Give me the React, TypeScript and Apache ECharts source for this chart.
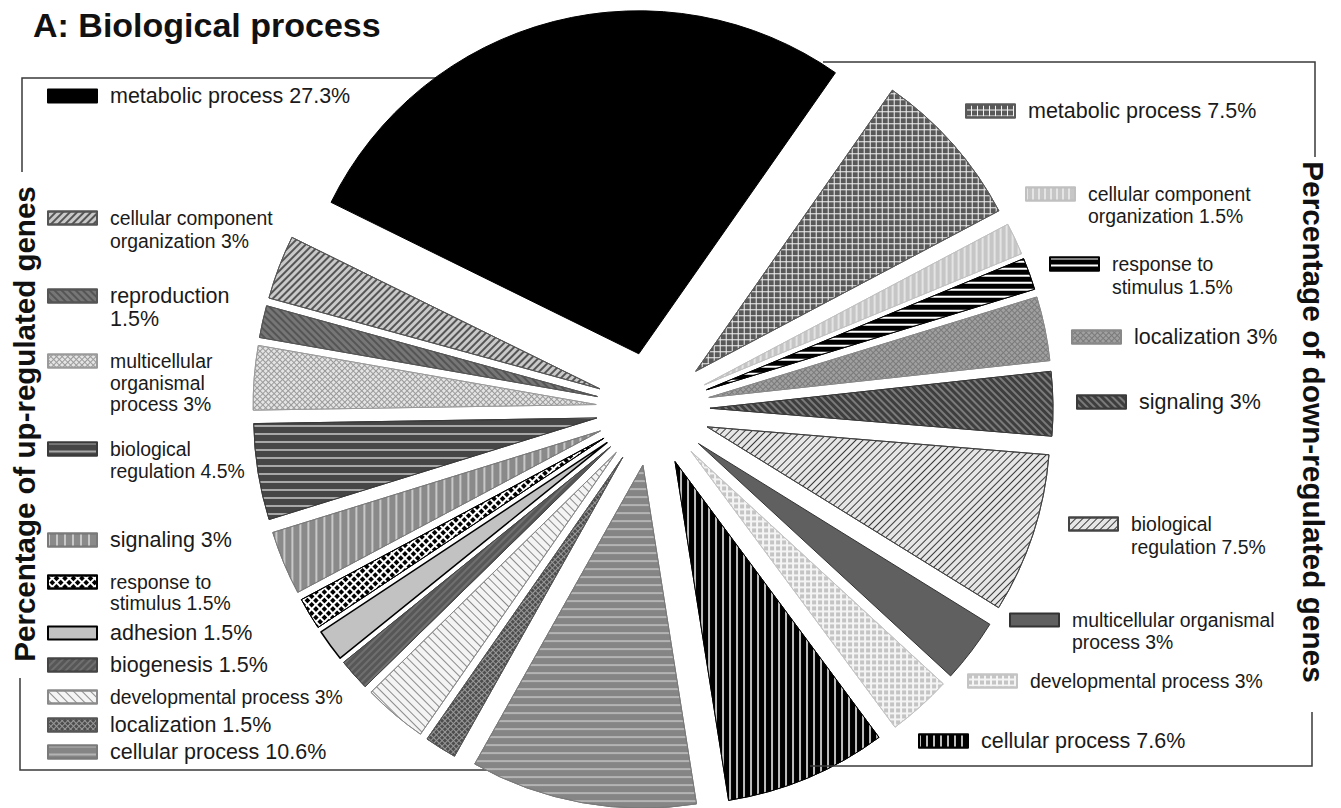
import React, { useEffect, useRef } from "react";
import * as echarts from "echarts";

const TITLE = "A: Biological process";
const UP_AXIS_TITLE = "Percentage of up-regulated genes";
const DOWN_AXIS_TITLE = "Percentage of down-regulated genes";

// Up-regulated genes (legend order, counter-clockwise from the black slice)
const UP_CATEGORIES = [
  "metabolic process",
  "cellular component organization",
  "reproduction",
  "multicellular organismal process",
  "biological regulation",
  "signaling",
  "response to stimulus",
  "adhesion",
  "biogenesis",
  "developmental process",
  "localization",
  "cellular process",
];
const UP_VALUES = [27.3, 3, 1.5, 3, 4.5, 3, 1.5, 1.5, 1.5, 3, 1.5, 10.6];

// Down-regulated genes (legend order, clockwise from the black slice)
const DOWN_CATEGORIES = [
  "metabolic process",
  "cellular component organization",
  "response to stimulus",
  "localization",
  "signaling",
  "biological regulation",
  "multicellular organismal process",
  "developmental process",
  "cellular process",
];
const DOWN_VALUES = [7.5, 1.5, 1.5, 3, 3, 7.5, 3, 3, 7.6];

const FONT = "'Liberation Sans', Arial, Helvetica, sans-serif";

// ---------- styles (patterns) ----------
type Sty = { color: string; borderColor: string; borderWidth?: number; decal?: any };
const solid = (c: string, b: string, bw = 1): Sty => ({ color: c, borderColor: b, borderWidth: bw });
const hLines = (bg: string, line: string, w: number, gap: number, b: string): Sty => ({
  color: bg, borderColor: b, borderWidth: 1,
  decal: { symbol: "rect", symbolSize: 1, color: line, dashArrayX: [1, 0], dashArrayY: [w, gap], rotation: 0 },
});
const vLines = (bg: string, line: string, w: number, gap: number, b: string): Sty => ({
  color: bg, borderColor: b, borderWidth: 1,
  decal: { symbol: "rect", symbolSize: 1, color: line, dashArrayX: [w, gap], dashArrayY: [1, 0], rotation: 0 },
});
const diag = (bg: string, line: string, w: number, gap: number, rot: number, b: string): Sty => ({
  color: bg, borderColor: b, borderWidth: 1,
  decal: { symbol: "rect", symbolSize: 1, color: line, dashArrayX: [1, 0], dashArrayY: [w, gap], rotation: rot },
});
const grid = (lineC: string, sqC: string, sq: number, gap: number, rot: number, b: string): Sty => ({
  color: lineC, borderColor: b, borderWidth: 1,
  decal: { symbol: "rect", symbolSize: 1, color: sqC, dashArrayX: [sq, gap], dashArrayY: [sq, gap], rotation: rot },
});
const SLASH = -Math.PI / 4; // "/"
const BSLASH = Math.PI / 4; // "\"

const UP_STYLES: Sty[] = [
  solid("#000000", "#000000"),
  diag("#c9c9c9", "#555555", 2, 3, SLASH, "#555555"),
  diag("#767676", "#555555", 2, 3, BSLASH, "#555555"),
  grid("#9a9a9a", "#e4e4e4", 3, 1, Math.PI / 4, "#9a9a9a"),
  hLines("#464646", "#a8a8a8", 2, 6, "#3a3a3a"),
  vLines("#8a8a8a", "#c8c8c8", 2, 6, "#7a7a7a"),
  grid("#ffffff", "#000000", 4, 2, Math.PI / 4, "#000000"),
  solid("#c2c2c2", "#000000", 1.5),
  diag("#575757", "#6f6f6f", 2, 3, SLASH, "#444444"),
  diag("#f4f4f4", "#8a8a8a", 1, 5, BSLASH, "#8a8a8a"),
  grid("#999999", "#4d4d4d", 3, 1, Math.PI / 4, "#555555"),
  hLines("#858585", "#b4b4b4", 2, 6, "#7a7a7a"),
];
const DOWN_STYLES: Sty[] = [
  grid("#f2f2f2", "#595959", 5, 1, 0, "#595959"),
  vLines("#c6c6c6", "#e4e4e4", 2, 4, "#c0c0c0"),
  hLines("#000000", "#ffffff", 2, 5, "#000000"),
  grid("#7a7a7a", "#a0a0a0", 3, 1, Math.PI / 4, "#888888"),
  diag("#3e3e3e", "#7a7a7a", 2, 3, BSLASH, "#3a3a3a"),
  diag("#e6e6e6", "#3a3a3a", 1, 4, SLASH, "#444444"),
  solid("#606060", "#333333"),
  grid("#f4f4f4", "#c4c4c4", 4, 2, 0, "#c4c4c4"),
  vLines("#000000", "#bdbdbd", 2, 5, "#000000"),
];

// ---------- legend layout: swatch x, swatch centre y, font size, line height, words per line ----------
type Lay = { x: number; y: number; fs: number; lh: number; words: number[] };
const BIG = 21.5;
const SMALL = 19.4;
const UP_LAYOUT: Lay[] = [
  { x: 47, y: 96, fs: BIG, lh: 23, words: [] },
  { x: 47, y: 218, fs: SMALL, lh: 23, words: [2, 2] },
  { x: 47, y: 296, fs: BIG, lh: 23, words: [1, 1] },
  { x: 47, y: 361, fs: SMALL, lh: 21.5, words: [1, 1, 2] },
  { x: 47, y: 449, fs: SMALL, lh: 22, words: [1, 2] },
  { x: 47, y: 540, fs: BIG, lh: 23, words: [] },
  { x: 47, y: 582, fs: SMALL, lh: 21, words: [2, 2] },
  { x: 47, y: 633, fs: BIG, lh: 23, words: [] },
  { x: 47, y: 665, fs: BIG, lh: 23, words: [] },
  { x: 47, y: 697, fs: SMALL, lh: 23, words: [] },
  { x: 47, y: 725, fs: BIG, lh: 23, words: [] },
  { x: 47, y: 752, fs: BIG, lh: 23, words: [] },
];
const DOWN_LAYOUT: Lay[] = [
  { x: 965, y: 111, fs: BIG, lh: 23, words: [] },
  { x: 1025, y: 194, fs: SMALL, lh: 22, words: [2, 2] },
  { x: 1049, y: 264, fs: SMALL, lh: 23, words: [2, 2] },
  { x: 1071, y: 337, fs: BIG, lh: 23, words: [] },
  { x: 1076, y: 402, fs: BIG, lh: 23, words: [] },
  { x: 1068, y: 524, fs: SMALL, lh: 23, words: [1, 2] },
  { x: 1009, y: 620, fs: SMALL, lh: 22, words: [2, 2] },
  { x: 967, y: 681, fs: SMALL, lh: 23, words: [] },
  { x: 918, y: 741, fs: BIG, lh: 23, words: [] },
];

const wrap = (text: string, words: number[]) => {
  if (!words.length) return [text];
  const w = text.split(" ");
  const out: string[] = [];
  let i = 0;
  for (const n of words) {
    out.push(w.slice(i, i + n).join(" "));
    i += n;
  }
  if (i < w.length) out[out.length - 1] += " " + w.slice(i).join(" ");
  return out;
};

export default function App() {
  const ref = useRef<HTMLDivElement>(null);
  useEffect(() => {
    if (!ref.current) return;
    const chart = echarts.init(ref.current, undefined, { renderer: "svg" });

    const upItems = UP_CATEGORIES.map((c, i) => ({
      name: "up|" + c,
      value: UP_VALUES[i],
      label: `${c} ${UP_VALUES[i]}%`,
      style: UP_STYLES[i],
      lay: UP_LAYOUT[i],
    }));
    const downItems = DOWN_CATEGORIES.map((c, i) => ({
      name: "down|" + c,
      value: DOWN_VALUES[i],
      label: `${c} ${DOWN_VALUES[i]}%`,
      style: DOWN_STYLES[i],
      lay: DOWN_LAYOUT[i],
    }));

    // clockwise from the big black slice: up[0], all down, then remaining up in reverse
    const ordered = [upItems[0], ...downItems, ...upItems.slice(1).reverse()];
    const pieData = ordered.map((it) => ({
      name: it.name,
      value: it.value,
      selected: true,
      itemStyle: { ...it.style },
    }));

    const legends = [...upItems, ...downItems].map((it) => {
      const lines = wrap(it.label, it.lay.words);
      const n = lines.length;
      // leading empty lines keep the first text line level with the swatch
      const text = "\n".repeat(n - 1) + lines.join("\n");
      const total = 2 * n - 1;
      return {
        show: true,
        orient: "horizontal",
        left: it.lay.x,
        top: it.lay.y - (total * it.lay.lh) / 2,
        padding: 0,
        data: [it.name],
        icon: "rect",
        itemWidth: 49,
        itemHeight: 13,
        selectedMode: false,
        formatter: () => text,
        textStyle: {
          fontSize: it.lay.fs,
          lineHeight: it.lay.lh,
          fontFamily: FONT,
          color: "#1a1a1a",
          padding: [0, 0, 0, 8],
        },
      };
    });

    const line = (pts: number[][], z = 0) => ({
      type: "polyline",
      z,
      shape: { points: pts },
      style: { stroke: "#3a3a3a", lineWidth: 1.5, fill: null },
    });

    chart.setOption({
      animation: false,
      backgroundColor: "#ffffff",
      legend: legends,
      graphic: {
        elements: [
          line([[22, 172], [22, 78], [520, 78]]),
          line([[20, 678], [20, 770], [520, 770]]),
          line([[823, 62], [1315, 62], [1315, 157]]),
          line([[1312, 712], [1312, 766], [810, 766]], 100),
          {
            type: "text",
            x: 33,
            y: 25,
            style: {
              text: TITLE,
              fontSize: 34,
              fontWeight: "bold",
              fontFamily: FONT,
              fill: "#111111",
              align: "left",
              verticalAlign: "middle",
            },
          },
          {
            type: "text",
            x: 24,
            y: 424,
            rotation: Math.PI / 2,
            style: {
              text: UP_AXIS_TITLE,
              fontSize: 29.5,
              fontWeight: "bold",
              fontFamily: FONT,
              fill: "#111111",
              align: "center",
              verticalAlign: "middle",
            },
          },
          {
            type: "text",
            x: 1313,
            y: 422,
            rotation: -Math.PI / 2,
            style: {
              text: DOWN_AXIS_TITLE,
              fontSize: 29.8,
              fontWeight: "bold",
              fontFamily: FONT,
              fill: "#111111",
              align: "center",
              verticalAlign: "middle",
            },
          },
        ],
      },
      series: [
        {
          type: "pie",
          center: [653, 409],
          radius: 343,
          startAngle: 153.8,
          clockwise: true,
          selectedMode: "multiple",
          selectedOffset: 57,
          label: { show: false },
          labelLine: { show: false },
          emphasis: { disabled: true },
          data: pieData,
        },
      ],
    });
    return () => chart.dispose();
  }, []);
  return (
    <div
      ref={ref}
      style={{ position: "fixed", left: 0, top: 0, width: 1341, height: 808, background: "#fff" }}
    />
  );
}
